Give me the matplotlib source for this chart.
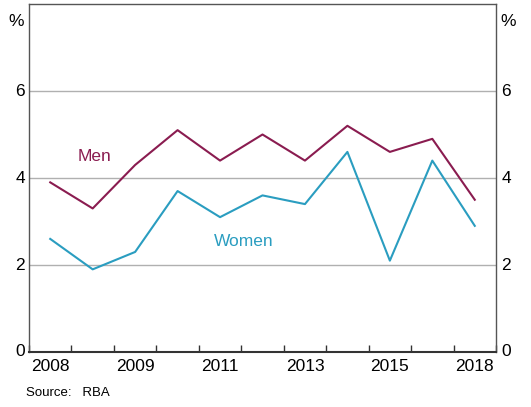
import matplotlib
matplotlib.use("Agg")
import matplotlib.pyplot as plt
import numpy as np

plt.rcParams['font.family'] = ['Liberation Sans', 'DejaVu Sans']

# Data
tick_labels = ["2008", "", "2009", "", "2011", "", "2013", "", "2015", "", "2018"]
men = [3.9, 3.3, 4.3, 5.1, 4.4, 5.0, 4.4, 5.2, 4.6, 4.9, 3.5]
women = [2.6, 1.9, 2.3, 3.7, 3.1, 3.6, 3.4, 4.6, 2.1, 4.4, 2.9]
y_ticks = [0, 2, 4, 6]

MEN_COLOR = "#8A1C50"
WOMEN_COLOR = "#2A9DC0"
FS = 12.5

fig = plt.figure(figsize=(5.31, 4.07), dpi=100)
ax = fig.add_axes([29 / 531, 55 / 407, 467 / 531, 348 / 407])

x = np.arange(len(men))
ax.plot(x, men, color=MEN_COLOR, lw=1.5)
ax.plot(x, women, color=WOMEN_COLOR, lw=1.5)

ax.set_xlim(-0.5, len(men) - 0.5)
ax.set_ylim(0, 8)

# gridlines
for yv in y_ticks[1:]:
    ax.axhline(yv, color="#b0b0b0", lw=1, zorder=0)

# x ticks: marks on category boundaries, labels centred on categories
ax.set_xticks(np.arange(-0.5, len(men) + 0.5, 1.0))
ax.set_xticklabels([])
ax.tick_params(axis='x', direction='in', length=5, width=1, color="#333333")
for i, lab in enumerate(tick_labels):
    if lab:
        ax.text(i, -0.15, lab, ha='center', va='top', fontsize=FS)

ax.set_yticks([])
ytrans = ax.get_yaxis_transform()
for yv in y_ticks:
    ax.annotate(str(yv), xy=(0, yv), xycoords=ytrans, xytext=(-3, 0),
                textcoords='offset points', ha='right', va='center', fontsize=FS)
    ax.annotate(str(yv), xy=(1, yv), xycoords=ytrans, xytext=(4, 0),
                textcoords='offset points', ha='left', va='center', fontsize=FS)
ax.annotate("%", xy=(0, 7.6), xycoords=ytrans, xytext=(-4, 0),
            textcoords='offset points', ha='right', va='center', fontsize=FS)
ax.annotate("%", xy=(1, 7.6), xycoords=ytrans, xytext=(3, 0),
            textcoords='offset points', ha='left', va='center', fontsize=FS)

for side in ['top', 'left', 'right']:
    ax.spines[side].set_color("#555555")
    ax.spines[side].set_linewidth(1)
ax.spines['bottom'].set_color("#333333")
ax.spines['bottom'].set_linewidth(1.5)

ax.text(1.05, 4.5, "Men", color=MEN_COLOR, fontsize=FS, ha='center', va='center')
ax.text(4.55, 2.55, "Women", color=WOMEN_COLOR, fontsize=FS, ha='center', va='center')

fig.text(26 / 531, 1 - 393 / 407, "Source:   RBA", fontsize=9.5, ha='left', va='center')

fig.savefig("out.png", dpi=100)
